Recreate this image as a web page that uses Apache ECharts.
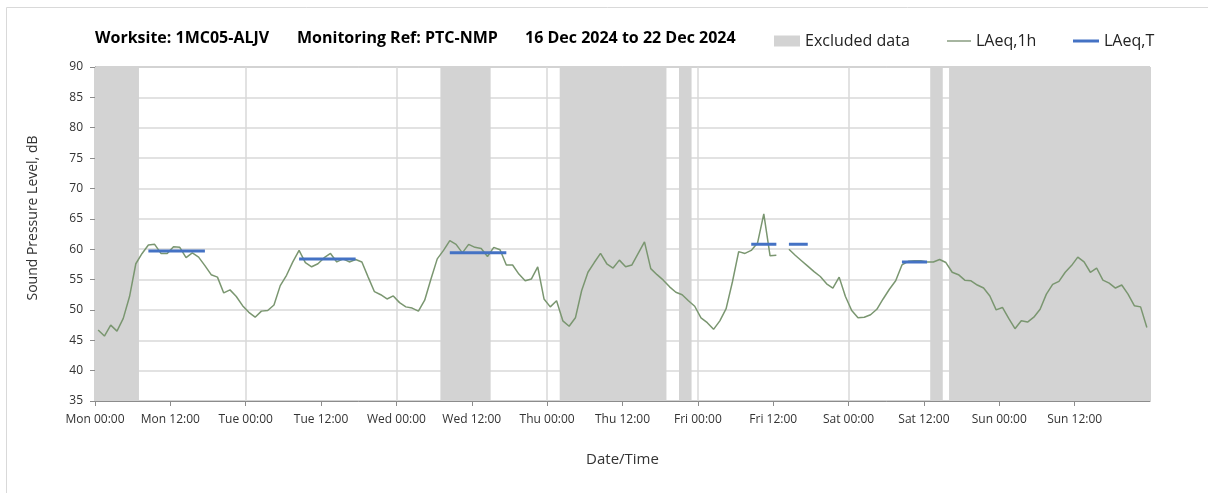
<!DOCTYPE html>
<html>
<head>
<meta charset="utf-8">
<script src="https://cdn.jsdelivr.net/npm/echarts@6/dist/echarts.min.js"></script>
<style>
html,body{margin:0;padding:0;background:#fff;}
#chart{width:1208px;height:493px;}
</style>
</head>
<body>
<div id="chart"></div>
<script>
// ---- data ----
const titleParts = ['Worksite: 1MC05-ALJV', 'Monitoring Ref: PTC-NMP', '16 Dec 2024 to 22 Dec 2024'];
const dayNames = ['Mon', 'Tue', 'Wed', 'Thu', 'Fri', 'Sat', 'Sun'];
const hourLabels = ['00:00', '12:00'];
// hourly LAeq,1h values, hour index 0..167 (null = no data)
const laeq1h = [
  46.7,45.7,47.5,46.5,48.6,52.2,57.6,59.3,60.7,60.8,59.3,59.3,60.4,60.3,58.6,59.4,58.7,57.3,55.8,55.4,52.8,53.3,52.2,50.7,
  49.6,48.8,49.8,49.9,50.8,54.0,55.7,57.9,59.8,57.8,57.1,57.6,58.6,59.3,57.9,58.4,57.9,58.3,57.9,55.4,53.0,52.5,51.8,52.3,
  51.2,50.5,50.3,49.8,51.6,55.1,58.4,59.8,61.4,60.8,59.4,60.8,60.3,60.1,58.8,60.3,59.9,57.4,57.4,55.9,54.8,55.1,57.1,51.8,
  50.5,51.5,48.2,47.3,48.7,53.2,56.2,57.8,59.3,57.6,56.9,58.2,57.1,57.4,59.3,61.2,56.8,55.8,54.9,53.8,52.9,52.5,51.5,50.6,
  48.7,47.9,46.8,48.2,50.2,54.6,59.6,59.3,59.8,61.0,65.8,58.9,59.0,null,60.0,59.0,58.1,57.2,56.3,55.5,54.3,53.6,55.4,52.2,
  49.9,48.7,48.8,49.2,50.1,51.8,53.4,54.8,57.4,58.0,58.1,58.1,57.9,57.9,58.3,57.8,56.2,55.8,54.9,54.8,54.1,53.6,52.3,50.0,
  50.4,48.6,46.9,48.2,48.0,48.8,50.1,52.6,54.2,54.7,56.2,57.3,58.7,57.9,56.2,56.9,54.9,54.4,53.6,54.1,52.6,50.7,50.5,47.1
];
// LAeq,T periods (first and last hour index) and values
const laeqTStart = [8, 32, 56, 104, 110, 128];
const laeqTEnd   = [17, 41, 65, 108, 113, 132];
const laeqTValue = [59.7, 58.4, 59.4, 60.8, 60.8, 57.9];
// Excluded data periods (hours from Mon 00:00)
const excludedStart = [0, 55, 74, 93, 133, 136];
const excludedEnd   = [7, 63, 91, 95, 135, 168];

// ---- build ----
const FONT = 'Open Sans';
const green = '#7a9670';
const blue = '#4472c4';
const band = '#d3d3d3';

const lineData = laeq1h.map((v, i) => [i + 0.5, v === null ? '-' : v]);

const series = [];
series.push({
  name: 'Excluded data', type: 'line', data: [], z: -1, silent: true,
  itemStyle: { color: band },
  markArea: {
    silent: true,
    itemStyle: { color: band },
    data: excludedStart.map((s, k) => [{ xAxis: s }, { xAxis: excludedEnd[k] }])
  }
});
series.push({
  name: 'LAeq,1h', type: 'line', data: lineData, showSymbol: false, connectNulls: false,
  lineStyle: { color: green, width: 1.5 }, itemStyle: { color: green }, z: 3
});
laeqTStart.forEach((s, k) => {
  series.push({
    name: 'LAeq,T', type: 'line', showSymbol: false, z: 4,
    data: [[s + 0.5, laeqTValue[k]], [laeqTEnd[k] + 0.5, laeqTValue[k]]],
    lineStyle: { color: blue, width: 3 }, itemStyle: { color: blue }
  });
});

const titleStyle = { fontFamily: FONT, fontSize: 16, fontWeight: 'bold', color: '#000' };
const legendText = { fontFamily: FONT, fontSize: 16, color: '#222' };

const chart = echarts.init(document.getElementById('chart'), null, { renderer: 'canvas' });
chart.setOption({
  animation: false,
  textStyle: { fontFamily: FONT },
  title: [
    { text: titleParts[0], left: 95, top: 30, padding: 0, textStyle: titleStyle },
    { text: titleParts[1], left: 297, top: 30, padding: 0, textStyle: titleStyle },
    { text: titleParts[2], left: 525, top: 30, padding: 0, textStyle: titleStyle }
  ],
  legend: [
    { data: [{ name: 'Excluded data', icon: 'rect' }], left: 774, top: 33, padding: 0, itemWidth: 26, itemHeight: 11,
      textStyle: legendText, selectedMode: false },
    { data: [{ name: 'LAeq,1h', icon: 'rect' }], left: 947, top: 33, padding: 0, itemWidth: 24, itemHeight: 1,
      itemStyle: { color: '#4d6b40' }, textStyle: legendText, selectedMode: false },
    { data: [{ name: 'LAeq,T', icon: 'rect' }], left: 1073, top: 33, padding: 0, itemWidth: 26, itemHeight: 3,
      textStyle: legendText, selectedMode: false }
  ],
  grid: { left: 95, right: 58, top: 67, bottom: 92, show: true, borderColor: '#8c8c8c', borderWidth: 1, backgroundColor: 'transparent' },
  xAxis: [
    {
      type: 'value', min: 0, max: 168, interval: 12,
      name: 'Date/Time', nameLocation: 'middle', nameGap: 51,
      nameTextStyle: { fontFamily: FONT, fontSize: 15, color: '#333' },
      axisLine: { show: true, lineStyle: { color: '#8c8c8c' } },
      axisTick: { show: true, length: 5, lineStyle: { color: '#8c8c8c' } },
      splitLine: { show: false },
      axisLabel: {
        showMaxLabel: false, margin: 13, fontFamily: FONT, fontSize: 12, color: '#333',
        formatter: v => dayNames[Math.floor(v / 24)] + ' ' + hourLabels[(v % 24) / 12]
      }
    },
    {
      type: 'value', min: 0, max: 168, interval: 24, position: 'bottom',
      axisLine: { show: false }, axisTick: { show: false }, axisLabel: { show: false },
      splitLine: { show: true, lineStyle: { color: '#d9d9d9', width: 1.5 } }
    }
  ],
  yAxis: {
    type: 'value', min: 35, max: 90, interval: 5,
    name: 'Sound Pressure Level, dB', nameLocation: 'middle', nameGap: 55, nameRotate: 90,
    nameTextStyle: { fontFamily: FONT, fontSize: 14, color: '#333', padding: [0, 0, 0, 32] },
    axisLine: { show: true, lineStyle: { color: '#8c8c8c' } },
    axisTick: { show: true, length: 5, lineStyle: { color: '#8c8c8c' } },
    splitLine: { show: true, lineStyle: { color: '#d9d9d9', width: 1.5 } },
    axisLabel: { margin: 12, fontFamily: FONT, fontSize: 12, color: '#333' }
  },
  graphic: [
    { type: 'polyline', silent: true, shape: { points: [[6.5, 493], [6.5, 7.5], [1208, 7.5]] },
      style: { stroke: '#d9d9d9', lineWidth: 1, fill: null } }
  ],
  series: series
});
</script>
</body>
</html>
